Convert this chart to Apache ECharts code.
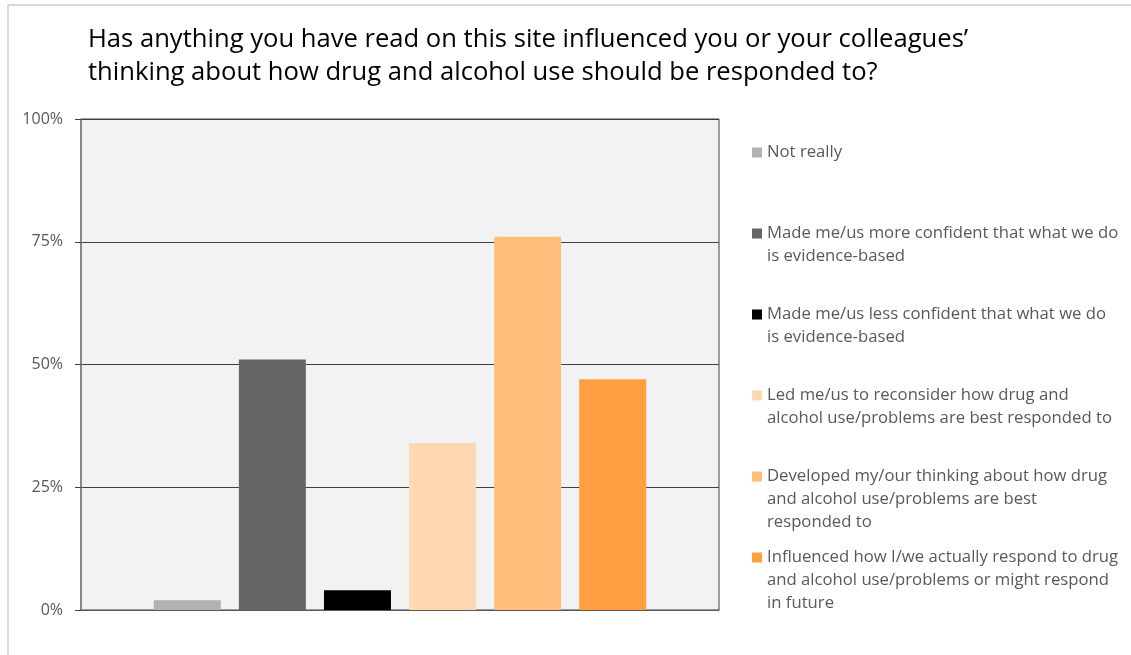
<!DOCTYPE html>
<html>
<head>
<meta charset="utf-8">
<script src="https://cdn.jsdelivr.net/npm/echarts@6/dist/echarts.min.js"></script>
<style>
  html, body { margin: 0; padding: 0; background: #ffffff; }
  #chart { width: 1131px; height: 655px; }
</style>
</head>
<body>
<div id="chart"></div>
<script>
// ---- data ----
const titleText = "Has anything you have read on this site influenced you or your colleagues’\nthinking about how drug and alcohol use should be responded to?";
const responses = [
  "Not really",
  "Made me/us more confident that what we do\nis evidence-based",
  "Made me/us less confident that what we do\nis evidence-based",
  "Led me/us to reconsider how drug and\nalcohol use/problems are best responded to",
  "Developed my/our thinking about how drug\nand alcohol use/problems are best\nresponded to",
  "Influenced how I/we actually respond to drug\nand alcohol use/problems or might respond\nin future"
];
const percentages = [2, 51, 4, 34, 76, 47];
const colors = ["#b2b2b2", "#666666", "#000000", "#ffd8b1", "#ffbe7b", "#ff9f3f"];
const yMin = 0, yMax = 100, yStep = 25;

// ---- chart ----
const chart = echarts.init(document.getElementById('chart'), null, { renderer: 'canvas' });
const FONT = 'Open Sans';
const LINE_H = 23;
const LEG_LINES = 3;

const series = responses.map((name, i) => ({
  name: name,
  type: 'bar',
  data: [percentages[i]],
  barWidth: 67,
  barGap: '27%',
  itemStyle: { color: colors[i] },
  emphasis: { disabled: true }
}));

const option = {
  animation: false,
  backgroundColor: '#ffffff',
  title: {
    text: titleText,
    left: 88,
    top: 23,
    padding: 0,
    textStyle: { fontFamily: FONT, fontSize: 25.6, fontWeight: 'normal', color: '#000000', lineHeight: 33 }
  },
  legend: {
    orient: 'vertical',
    left: 752,
    top: 140.5,
    padding: 0,
    itemGap: 81 - LINE_H * LEG_LINES,
    itemWidth: 10,
    itemHeight: LINE_H * LEG_LINES,
    icon: 'path://M0,0L0.01,0M0,7h10v10h-10zM0,69L0.01,69',
    selectedMode: false,
    formatter: function (name) {
      const n = name.split('\n').length;
      let pad = '';
      for (let k = n; k < LEG_LINES; k++) pad += '\n\u200b';
      return name + pad;
    },
    textStyle: { fontFamily: FONT, fontSize: 16.7, color: '#595959', lineHeight: LINE_H },
    data: responses
  },
  grid: {
    left: 81, right: 412, top: 119, bottom: 45,
    show: true,
    backgroundColor: '#f2f2f2',
    borderColor: '#404040',
    borderWidth: 1,
    containLabel: false
  },
  xAxis: {
    type: 'category',
    data: [''],
    axisLine: { show: true, lineStyle: { color: '#595959', width: 1 } },
    axisTick: { show: false },
    axisLabel: { show: false }
  },
  yAxis: {
    type: 'value',
    min: yMin, max: yMax, interval: yStep,
    axisLine: { show: true, lineStyle: { color: '#808080', width: 1.5 } },
    axisTick: { show: true, length: 6, lineStyle: { color: '#404040' } },
    axisLabel: { formatter: '{value}%', margin: 18, fontFamily: FONT, fontSize: 16, color: '#595959' },
    splitLine: { show: true, lineStyle: { color: '#404040', width: 1 } }
  },
  graphic: [
    { type: 'line', shape: { x1: 8, y1: 5, x2: 1131, y2: 5 }, style: { stroke: '#d9d9d9', lineWidth: 2 }, silent: true },
    { type: 'line', shape: { x1: 8, y1: 5, x2: 8, y2: 655 }, style: { stroke: '#d9d9d9', lineWidth: 2 }, silent: true }
  ],
  series: series
};
chart.setOption(option);
</script>
</body>
</html>
